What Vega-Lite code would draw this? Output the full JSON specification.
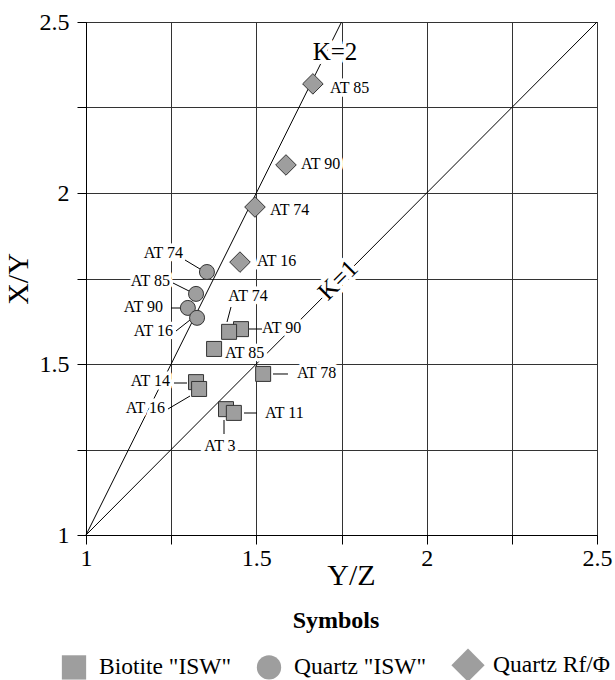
{
  "$schema": "https://vega.github.io/schema/vega-lite/v6.json",
  "width": 511,
  "height": 513,
  "autosize": {"type": "none"},
  "padding": {"left": 86, "top": 22, "right": 18, "bottom": 145},
  "background": "white",
  "config": {
    "font": "Liberation Serif",
    "view": {"stroke": "black", "strokeWidth": 1},
    "style": {
      "guide-label": {"font": "Liberation Serif"},
      "guide-title": {"font": "Liberation Serif"}
    },
    "legend": {"labelFont": "Liberation Serif", "titleFont": "Liberation Serif"},
    "axis": {
      "domainColor": "black", "domainWidth": 1,
      "grid": true, "gridColor": "#333", "gridOpacity": 1, "gridWidth": 1,
      "tickColor": "black", "tickWidth": 1, "tickSize": 9,
      "labelFont": "Liberation Serif", "labelFontSize": 24, "labelColor": "black",
      "titleFont": "Liberation Serif", "titleFontSize": 30, "titleFontWeight": "normal", "titleColor": "black",
      "labelFlush": false, "labelOverlap": false
    }
  },
  "datasets": {
    "klines": [
      {"k": "K=1", "x": 1, "y": 1, "x2": 2.5, "y2": 2.5},
      {"k": "K=2", "x": 1, "y": 1, "x2": 1.75, "y2": 2.5}
    ],
    "leaders": [
      {"site": "Quartz ISW AT 74", "x": 1.2906, "y": 1.8041, "x2": 1.3346, "y2": 1.7778},
      {"site": "Quartz ISW AT 85", "x": 1.2554, "y": 1.7368, "x2": 1.3082, "y2": 1.7105},
      {"site": "Quartz ISW AT 90", "x": 1.2495, "y": 1.6637, "x2": 1.2789, "y2": 1.6637},
      {"site": "Quartz ISW AT 16", "x": 1.2642, "y": 1.5965, "x2": 1.3053, "y2": 1.6287},
      {"site": "Biotite AT 74", "x": 1.4256, "y": 1.6667, "x2": 1.4139, "y2": 1.6228},
      {"site": "Biotite AT 90", "x": 1.4785, "y": 1.6023, "x2": 1.5166, "y2": 1.6023},
      {"site": "Biotite AT 78", "x": 1.5489, "y": 1.4708, "x2": 1.5929, "y2": 1.4708},
      {"site": "Biotite AT 14", "x": 1.2583, "y": 1.4444, "x2": 1.2965, "y2": 1.4444},
      {"site": "Biotite AT 16", "x": 1.2407, "y": 1.3684, "x2": 1.3053, "y2": 1.4064},
      {"site": "Biotite AT 11", "x": 1.4638, "y": 1.3567, "x2": 1.5019, "y2": 1.3567},
      {"site": "Biotite AT 3", "x": 1.4051, "y": 1.3363, "x2": 1.4051, "y2": 1.2953}
    ],
    "labels": [
      {"text": "AT 85", "side": "left", "x": 1.7162, "y": 2.307},
      {"text": "AT 90", "side": "left", "x": 1.6311, "y": 2.0848},
      {"text": "AT 74", "side": "left", "x": 1.5401, "y": 1.9503},
      {"text": "AT 16", "side": "left", "x": 1.5019, "y": 1.8012},
      {"text": "AT 74", "side": "right", "x": 1.2847, "y": 1.8246},
      {"text": "AT 85", "side": "right", "x": 1.2466, "y": 1.7427},
      {"text": "AT 90", "side": "right", "x": 1.226, "y": 1.6667},
      {"text": "AT 16", "side": "right", "x": 1.2554, "y": 1.5965},
      {"text": "AT 74", "side": "center", "x": 1.4755, "y": 1.6988},
      {"text": "AT 90", "side": "left", "x": 1.5166, "y": 1.6053},
      {"text": "AT 85", "side": "left", "x": 1.408, "y": 1.5322},
      {"text": "AT 78", "side": "left", "x": 1.6194, "y": 1.4737},
      {"text": "AT 14", "side": "right", "x": 1.2466, "y": 1.4503},
      {"text": "AT 16", "side": "right", "x": 1.2319, "y": 1.3713},
      {"text": "AT 11", "side": "left", "x": 1.5254, "y": 1.3567},
      {"text": "AT 3", "side": "center", "x": 1.3933, "y": 1.2602}
    ],
    "klabels": [
      {"text": "K=2", "x": 1.7309, "y": 2.4123},
      {"text": "K=1", "x": 1.7397, "y": 1.7456}
    ],
    "points": [
      {"series": "Quartz Rf/Φ", "site": "AT 85", "x": 1.666, "y": 2.319},
      {"series": "Quartz Rf/Φ", "site": "AT 90", "x": 1.587, "y": 2.082},
      {"series": "Quartz Rf/Φ", "site": "AT 74", "x": 1.496, "y": 1.959},
      {"series": "Quartz Rf/Φ", "site": "AT 16", "x": 1.452, "y": 1.798},
      {"series": "Quartz \"ISW\"", "site": "AT 74", "x": 1.355, "y": 1.769},
      {"series": "Quartz \"ISW\"", "site": "AT 85", "x": 1.323, "y": 1.705},
      {"series": "Quartz \"ISW\"", "site": "AT 90", "x": 1.299, "y": 1.664},
      {"series": "Quartz \"ISW\"", "site": "AT 16", "x": 1.326, "y": 1.635},
      {"series": "Biotite \"ISW\"", "site": "AT 90", "x": 1.455, "y": 1.602},
      {"series": "Biotite \"ISW\"", "site": "AT 74", "x": 1.42, "y": 1.594},
      {"series": "Biotite \"ISW\"", "site": "AT 85", "x": 1.376, "y": 1.544},
      {"series": "Biotite \"ISW\"", "site": "AT 78", "x": 1.52, "y": 1.471},
      {"series": "Biotite \"ISW\"", "site": "AT 14", "x": 1.323, "y": 1.447},
      {"series": "Biotite \"ISW\"", "site": "AT 16", "x": 1.332, "y": 1.427},
      {"series": "Biotite \"ISW\"", "site": "AT 3", "x": 1.411, "y": 1.368},
      {"series": "Biotite \"ISW\"", "site": "AT 11", "x": 1.434, "y": 1.357}
    ]
  },
  "encoding": {
    "x": {
      "field": "x", "type": "quantitative",
      "scale": {"domain": [1, 2.5], "nice": false, "zero": false},
      "axis": {
        "title": "Y/Z", "values": [1, 1.25, 1.5, 1.75, 2, 2.25, 2.5], "format": "~g",
        "labelExpr": "datum.value % 0.5 === 0 ? datum.label : ''",
        "labelPadding": 2, "titlePadding": -10, "titleX": 265
      }
    },
    "y": {
      "field": "y", "type": "quantitative",
      "scale": {"domain": [1, 2.5], "nice": false, "zero": false},
      "axis": {
        "title": "X/Y", "values": [1, 1.25, 1.5, 1.75, 2, 2.25, 2.5], "format": "~g",
        "labelExpr": "datum.value % 0.5 === 0 ? datum.label : ''",
        "labelPadding": 8, "titlePadding": 6
      }
    }
  },
  "layer": [
    {
      "data": {"name": "klines"},
      "mark": {"type": "rule", "color": "black", "strokeWidth": 1},
      "encoding": {"x2": {"field": "x2"}, "y2": {"field": "y2"}}
    },
    {
      "data": {"name": "labels"},
      "transform": [{"filter": "datum.side === 'left'"}],
      "mark": {"type": "text", "align": "left", "baseline": "middle", "font": "Liberation Serif", "fontSize": 16, "fill": "white", "stroke": "white", "strokeWidth": 7, "strokeJoin": "round"},
      "encoding": {"text": {"field": "text"}}
    },
    {
      "data": {"name": "labels"},
      "transform": [{"filter": "datum.side === 'right'"}],
      "mark": {"type": "text", "align": "right", "baseline": "middle", "font": "Liberation Serif", "fontSize": 16, "fill": "white", "stroke": "white", "strokeWidth": 7, "strokeJoin": "round"},
      "encoding": {"text": {"field": "text"}}
    },
    {
      "data": {"name": "labels"},
      "transform": [{"filter": "datum.side === 'center'"}],
      "mark": {"type": "text", "align": "center", "baseline": "middle", "font": "Liberation Serif", "fontSize": 16, "fill": "white", "stroke": "white", "strokeWidth": 7, "strokeJoin": "round"},
      "encoding": {"text": {"field": "text"}}
    },
    {
      "data": {"name": "klabels"},
      "transform": [{"filter": "datum.text === 'K=2'"}],
      "mark": {"type": "text", "align": "center", "baseline": "middle", "font": "Liberation Serif", "fontSize": 25, "fill": "white", "stroke": "white", "strokeWidth": 8, "strokeJoin": "round"},
      "encoding": {"text": {"field": "text"}}
    },
    {
      "data": {"name": "klabels"},
      "transform": [{"filter": "datum.text === 'K=1'"}],
      "mark": {"type": "text", "align": "center", "baseline": "middle", "angle": 315, "font": "Liberation Serif", "fontSize": 25, "fill": "white", "stroke": "white", "strokeWidth": 8, "strokeJoin": "round"},
      "encoding": {"text": {"field": "text"}}
    },
    {
      "data": {"name": "leaders"},
      "mark": {"type": "rule", "color": "black", "strokeWidth": 1},
      "encoding": {"x2": {"field": "x2"}, "y2": {"field": "y2"}}
    },
    {
      "data": {"name": "points"},
      "mark": {"type": "point", "filled": true, "size": 225, "fill": "#9e9e9e", "stroke": "#333", "strokeWidth": 1, "opacity": 1, "fillOpacity": 1, "strokeOpacity": 1},
      "encoding": {
        "shape": {
          "field": "series", "type": "nominal",
          "scale": {"domain": ["Biotite \"ISW\"", "Quartz \"ISW\"", "Quartz Rf/Φ"], "range": ["square", "circle", "M-1.37,0L0,-1.37L1.37,0L0,1.37Z"]},
          "legend": {
            "title": "Symbols",
            "orient": "none", "direction": "horizontal", "padding": 0,
            "legendX": -25, "legendY": 587,
            "titleFont": "Liberation Serif", "titleFontSize": 24, "titleFontWeight": "bold", "titleColor": "black",
            "titleAnchor": "middle", "titlePadding": 19,
            "labelFont": "Liberation Serif", "labelFontSize": 23.5, "labelColor": "black",
            "labelOffset": 12, "columnPadding": 22,
            "symbolSize": 590,
            "symbolFillColor": "#9e9e9e", "symbolStrokeColor": "#333", "symbolStrokeWidth": 1, "symbolOpacity": 1,
            "encode": {
              "title": {"update": {"dx": {"value": -14}}},
              "symbols": {"enter": {"stroke": {"value": "#333"}, "strokeWidth": {"value": 1}}, "update": {"stroke": {"value": "#333"}, "strokeWidth": {"value": 1}}}
            }
          }
        }
      }
    },
    {
      "data": {"name": "labels"},
      "transform": [{"filter": "datum.side === 'left'"}],
      "mark": {"type": "text", "align": "left", "baseline": "middle", "font": "Liberation Serif", "fontSize": 16, "color": "black"},
      "encoding": {"text": {"field": "text"}}
    },
    {
      "data": {"name": "labels"},
      "transform": [{"filter": "datum.side === 'right'"}],
      "mark": {"type": "text", "align": "right", "baseline": "middle", "font": "Liberation Serif", "fontSize": 16, "color": "black"},
      "encoding": {"text": {"field": "text"}}
    },
    {
      "data": {"name": "labels"},
      "transform": [{"filter": "datum.side === 'center'"}],
      "mark": {"type": "text", "align": "center", "baseline": "middle", "font": "Liberation Serif", "fontSize": 16, "color": "black"},
      "encoding": {"text": {"field": "text"}}
    },
    {
      "data": {"name": "klabels"},
      "transform": [{"filter": "datum.text === 'K=2'"}],
      "mark": {"type": "text", "align": "center", "baseline": "middle", "font": "Liberation Serif", "fontSize": 25, "color": "black"},
      "encoding": {"text": {"field": "text"}}
    },
    {
      "data": {"name": "klabels"},
      "transform": [{"filter": "datum.text === 'K=1'"}],
      "mark": {"type": "text", "align": "center", "baseline": "middle", "angle": 315, "font": "Liberation Serif", "fontSize": 25, "color": "black"},
      "encoding": {"text": {"field": "text"}}
    }
  ]
}
